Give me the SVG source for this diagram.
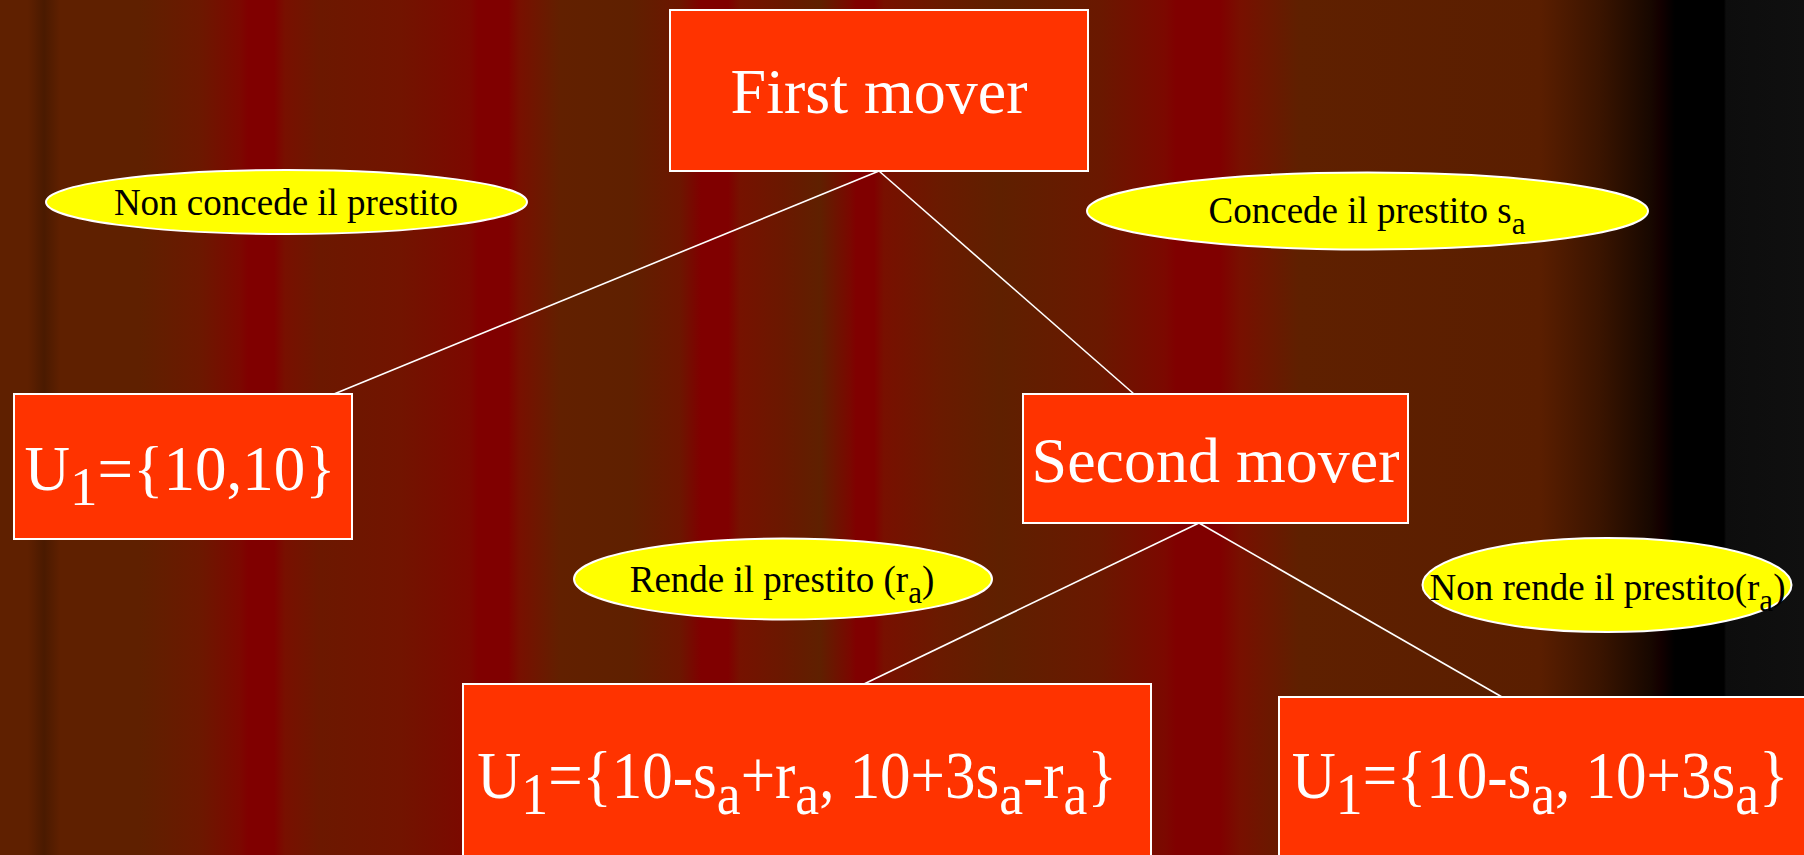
<svg xmlns="http://www.w3.org/2000/svg" width="1804" height="855" viewBox="0 0 1804 855">
<defs>
<linearGradient id="bg" gradientUnits="userSpaceOnUse" x1="0" y1="0" x2="1804" y2="0">
<stop offset="0" stop-color="#5f2000"/>
<stop offset="0.0155" stop-color="#5f2000"/>
<stop offset="0.0244" stop-color="#4a1a00"/>
<stop offset="0.0333" stop-color="#5f2000"/>
<stop offset="0.0776" stop-color="#5f2000"/>
<stop offset="0.1109" stop-color="#6c1800"/>
<stop offset="0.1330" stop-color="#7c0800"/>
<stop offset="0.1375" stop-color="#800000"/>
<stop offset="0.1519" stop-color="#800000"/>
<stop offset="0.1580" stop-color="#781000"/>
<stop offset="0.1774" stop-color="#6c1800"/>
<stop offset="0.2217" stop-color="#721400"/>
<stop offset="0.2605" stop-color="#7c0800"/>
<stop offset="0.2650" stop-color="#800000"/>
<stop offset="0.2816" stop-color="#800000"/>
<stop offset="0.2882" stop-color="#781000"/>
<stop offset="0.3104" stop-color="#622000"/>
<stop offset="0.3492" stop-color="#5f2000"/>
<stop offset="0.3770" stop-color="#6c1600"/>
<stop offset="0.3886" stop-color="#800000"/>
<stop offset="0.4036" stop-color="#800000"/>
<stop offset="0.4102" stop-color="#761200"/>
<stop offset="0.4346" stop-color="#6a1800"/>
<stop offset="0.4545" stop-color="#5f2000"/>
<stop offset="0.4712" stop-color="#7a0800"/>
<stop offset="0.4745" stop-color="#800000"/>
<stop offset="0.4845" stop-color="#800000"/>
<stop offset="0.4900" stop-color="#781000"/>
<stop offset="0.5211" stop-color="#6a1a00"/>
<stop offset="0.5543" stop-color="#5f2000"/>
<stop offset="0.6098" stop-color="#6a1800"/>
<stop offset="0.6458" stop-color="#7c0800"/>
<stop offset="0.6519" stop-color="#800000"/>
<stop offset="0.6763" stop-color="#800000"/>
<stop offset="0.6874" stop-color="#781000"/>
<stop offset="0.7206" stop-color="#5f2000"/>
<stop offset="0.8537" stop-color="#5a1e00"/>
<stop offset="0.8869" stop-color="#3a1400"/>
<stop offset="0.9146" stop-color="#180800"/>
<stop offset="0.9202" stop-color="#140000"/>
<stop offset="0.9285" stop-color="#000000"/>
<stop offset="0.9556" stop-color="#000000"/>
<stop offset="0.9568" stop-color="#0d0d0d"/>
<stop offset="1" stop-color="#101010"/>
</linearGradient>
</defs>
<style>
.box{fill:#ff3300;stroke:#ffffff;stroke-width:2}
.oval{fill:#ffff00;stroke:#ffffff;stroke-width:2}
.wt{font-family:"Liberation Serif","Times New Roman",serif;fill:#ffffff;text-anchor:middle}
.bt{font-family:"Liberation Serif","Times New Roman",serif;fill:#000000;text-anchor:middle;font-size:37px}
.edge{stroke:#ffffff;stroke-width:1.6;fill:none}
</style>
<rect x="0" y="0" width="1804" height="855" fill="url(#bg)"/>
<g id="connectors">
<line class="edge" x1="879" y1="171" x2="334" y2="394"/>
<line class="edge" x1="879" y1="171" x2="1134" y2="394"/>
<line class="edge" x1="1199" y1="523" x2="864" y2="684"/>
<line class="edge" x1="1199" y1="523" x2="1502" y2="697"/>
</g>
<g id="first-mover">
<rect class="box" x="670" y="10" width="418" height="161"/>
<text class="wt" x="879" y="113" font-size="64">First mover</text>
</g>
<g id="label-non-concede">
<ellipse class="oval" cx="286.5" cy="202" rx="240.5" ry="32"/>
<text class="bt" x="286" y="215">Non concede il prestito</text>
</g>
<g id="label-concede">
<ellipse class="oval" cx="1367.5" cy="211" rx="280.5" ry="38.5"/>
<text class="bt" x="1367" y="223">Concede il prestito s<tspan dy="11" font-size="31">a</tspan></text>
</g>
<g id="payoff-10-10">
<rect class="box" x="14" y="394" width="338" height="145"/>
<text class="wt" x="180" y="490" font-size="63">U<tspan dy="15" font-size="55">1</tspan><tspan dy="-15">={10,10}</tspan></text>
</g>
<g id="second-mover">
<rect class="box" x="1023" y="394" width="385" height="129"/>
<text class="wt" x="1215.5" y="482" font-size="64">Second mover</text>
</g>
<g id="label-rende">
<ellipse class="oval" cx="783" cy="579" rx="209" ry="40.5"/>
<text class="bt" x="782" y="592">Rende il prestito (r<tspan dy="11" font-size="31">a</tspan><tspan dy="-11">)</tspan></text>
</g>
<g id="label-non-rende">
<ellipse class="oval" cx="1607" cy="585" rx="184.5" ry="47"/>
<text class="bt" x="1607.5" y="600">Non rende il prestito(r<tspan dy="11" font-size="31">a</tspan><tspan dy="-11">)</tspan></text>
</g>
<g id="payoff-rende">
<rect class="box" x="463" y="684" width="688" height="190"/>
<text class="wt" font-size="67" transform="translate(797,798) scale(0.91,1)" x="0" y="0">U<tspan dy="16" font-size="59">1</tspan><tspan dy="-16">={10-s</tspan><tspan dy="16" font-size="59">a</tspan><tspan dy="-16">+r</tspan><tspan dy="16" font-size="59">a</tspan><tspan dy="-16">, 10+3s</tspan><tspan dy="16" font-size="59">a</tspan><tspan dy="-16">-r</tspan><tspan dy="16" font-size="59">a</tspan><tspan dy="-16">}</tspan></text>
</g>
<g id="payoff-non-rende">
<rect class="box" x="1279" y="697" width="540" height="180"/>
<text class="wt" font-size="67" transform="translate(1540,798) scale(0.91,1)" x="0" y="0">U<tspan dy="16" font-size="59">1</tspan><tspan dy="-16">={10-s</tspan><tspan dy="16" font-size="59">a</tspan><tspan dy="-16">, 10+3s</tspan><tspan dy="16" font-size="59">a</tspan><tspan dy="-16">}</tspan></text>
</g>
</svg>
